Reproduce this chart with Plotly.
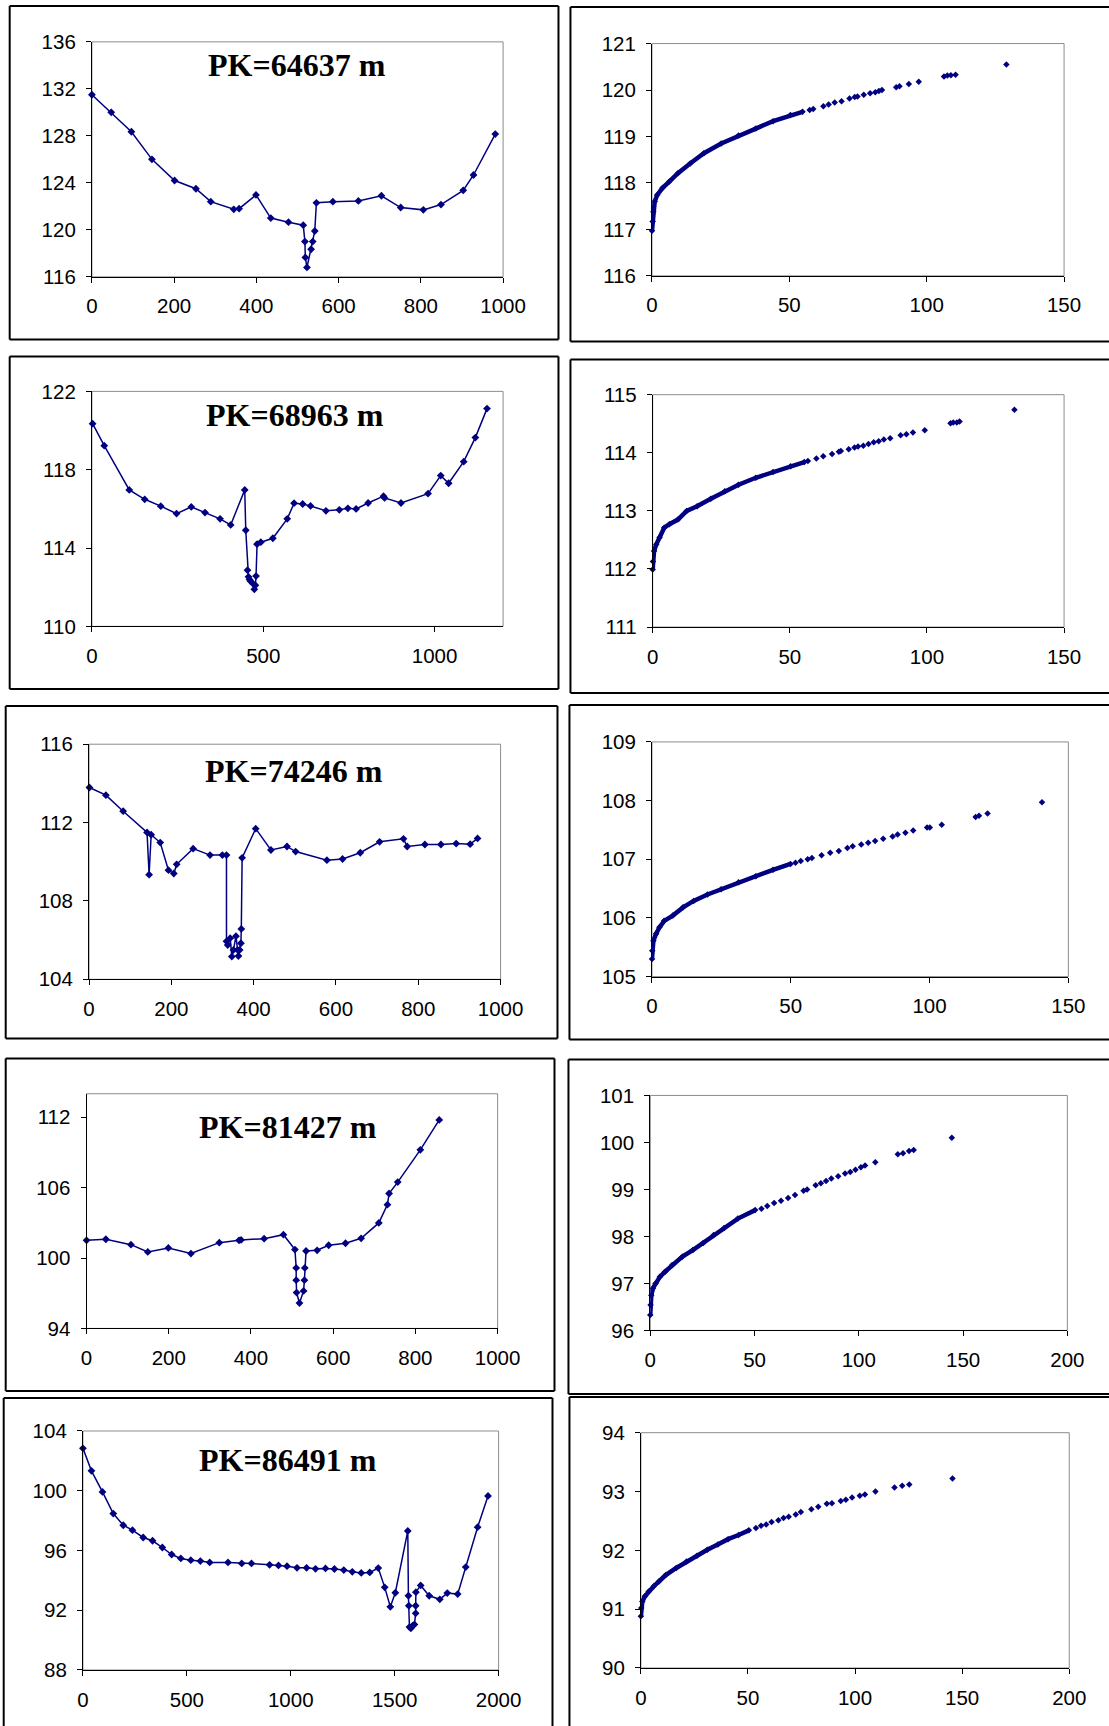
import plotly.graph_objects as go

W, H = 1109, 1726
NAVY = "#000080"

# Photographed page is slightly larger than the figure and scaled down to
# 1109 x 1726, so layout positions are expressed in final image pixels and
# converted back to figure pixels with this measured mapping.
IMG_SCALE_X, IMG_SHIFT_X = 0.976, 4.3
IMG_SCALE_Y, IMG_SHIFT_Y = 0.988, 10.1

# ---------------------------------------------------------------------------
# Cross sections: distance across the valley (m) and bed elevation (m)
# ---------------------------------------------------------------------------
dist_64637 = [0, 47, 96, 146, 201, 253, 289, 345, 358, 399, 435, 478, 514, 518,
              519, 523, 533, 537, 542, 546, 586, 648, 704, 751, 806, 849, 903,
              928, 981]
elev_64637 = [131.5, 130.0, 128.35, 126.0, 124.2, 123.5, 122.4, 121.75, 121.8,
              122.97, 121.0, 120.65, 120.4, 119.0, 117.65, 116.8, 118.35, 119.0,
              119.9, 122.3, 122.4, 122.46, 122.9, 121.9, 121.7, 122.15, 123.36,
              124.67, 128.15]

dist_68963 = [2, 36, 109, 154, 201, 247, 290, 330, 374, 405, 446, 449, 454, 457,
              460, 463, 469, 474, 477, 479, 482, 493, 528, 570, 590, 615, 638,
              683, 722, 747, 771, 806, 851, 854, 902, 981, 1018, 1041, 1085,
              1119, 1153]
elev_68963 = [120.35, 119.23, 116.97, 116.49, 116.14, 115.76, 116.1, 115.81,
              115.49, 115.18, 116.97, 114.91, 112.87, 112.53, 112.4, 112.31,
              112.2, 111.89, 112.1, 112.57, 114.2, 114.3, 114.5, 115.49, 116.29,
              116.25, 116.15, 115.9, 115.95, 116.03, 116.0, 116.3, 116.65,
              116.56, 116.3, 116.78, 117.7, 117.31, 118.41, 119.64, 121.12]

dist_74246 = [1, 41, 83, 141, 146, 151, 173, 193, 206, 213, 253, 294, 324, 334,
              334, 337, 343, 347, 351, 357, 361, 363, 366, 369, 370, 372, 405,
              442, 481, 502, 578, 616, 659, 706, 764, 773, 816, 855, 892, 926,
              944]
elev_74246 = [113.79, 113.4, 112.58, 111.5, 109.34, 111.38, 110.98, 109.57,
              109.4, 109.87, 110.67, 110.34, 110.34, 110.34, 105.94, 105.75,
              106.1, 105.16, 105.5, 106.2, 105.5, 105.19, 105.5, 105.84, 106.57,
              110.2, 111.69, 110.6, 110.78, 110.52, 110.08, 110.14, 110.46,
              111.02, 111.17, 110.78, 110.88, 110.88, 110.93, 110.9, 111.19]

dist_81427 = [0, 47, 108, 149, 199, 254, 323, 371, 376, 432, 479, 507, 510, 510,
              511, 518, 528, 530, 531, 534, 561, 589, 630, 668, 711, 732, 736,
              757, 812, 858]
elev_81427 = [101.51, 101.6, 101.14, 100.52, 100.86, 100.38, 101.31, 101.51,
              101.54, 101.65, 101.99, 100.72, 99.16, 98.11, 97.06, 96.16, 97.2,
              98.11, 99.16, 100.6, 100.66, 101.09, 101.26, 101.68, 102.99,
              104.55, 105.5, 106.47, 109.22, 111.77]

dist_86491 = [0, 41, 94, 146, 194, 238, 290, 335, 382, 427, 471, 519, 565, 610,
              698, 764, 811, 898, 941, 982, 1030, 1076, 1119, 1167, 1210, 1255,
              1296, 1339, 1380, 1421, 1452, 1479, 1503, 1563, 1566, 1568, 1571,
              1578, 1586, 1595, 1601, 1601, 1602, 1625, 1666, 1717, 1753, 1803,
              1842, 1899, 1949]
elev_86491 = [102.84, 101.33, 99.92, 98.47, 97.69, 97.36, 96.87, 96.65, 96.2,
              95.73, 95.47, 95.35, 95.29, 95.2, 95.2, 95.13, 95.13, 95.04, 95.0,
              94.95, 94.84, 94.84, 94.77, 94.8, 94.76, 94.69, 94.57, 94.5, 94.53,
              94.82, 93.53, 92.23, 93.17, 97.31, 92.97, 92.3, 90.87, 90.79,
              90.96, 91.05, 91.79, 92.3, 93.21, 93.66, 92.97, 92.73, 93.15,
              93.08, 94.89, 97.56, 99.65]

# ---------------------------------------------------------------------------
# Rating curves: discharge (m3/s) against water level (m).
# The low-flow part is densely sampled, the high-flow part is sparse.
# ---------------------------------------------------------------------------
q_64637_low = [0, 0.25, 0.5, 1, 1.9, 3.8, 6.3, 9.45, 13.9, 18.9, 25.2, 31.5,
               37.8, 44.1, 50.4, 54.8]
h_64637_low = [116.97, 117.17, 117.38, 117.6, 117.74, 117.89, 118.03, 118.21,
               118.42, 118.64, 118.85, 119.02, 119.17, 119.33, 119.46, 119.53]
q_64637_high = [57.4, 58.7, 62.4, 64.3, 66.5, 69, 71.9, 73.8, 74.8, 77.1, 79.4,
                81.3, 82.6, 83.7, 88.9, 90.1, 93.5, 97.1, 106.3, 107.5, 108.8,
                110.5, 129]
h_64637_high = [119.57, 119.59, 119.65, 119.69, 119.73, 119.76, 119.82, 119.85,
                119.86, 119.9, 119.93, 119.95, 119.98, 120.0, 120.06, 120.08,
                120.13, 120.18, 120.29, 120.31, 120.32, 120.33, 120.55]

q_68963_low = [0, 0.1, 0.5, 1.3, 2.5, 4.2, 6.1, 9.2, 12.4, 16.2, 21.2, 26.3,
               31.3, 37.6, 43.9, 50.3, 55.3]
h_68963_low = [111.99, 112.13, 112.31, 112.42, 112.54, 112.71, 112.77, 112.85,
               113.0, 113.08, 113.21, 113.34, 113.45, 113.57, 113.67, 113.77,
               113.84]
q_68963_high = [56.6, 59.7, 62.2, 65.4, 67.9, 68.6, 71.5, 73.6, 74.9, 76.8, 78.7,
                80.6, 82.4, 84.3, 86.6, 90.4, 92.5, 94.9, 99.2, 108.6, 109.6,
                110.9, 111.9, 131.9]
h_68963_high = [113.86, 113.9, 113.94, 113.98, 114.02, 114.03, 114.06, 114.09,
                114.11, 114.12, 114.15, 114.18, 114.2, 114.23, 114.25, 114.3,
                114.32, 114.35, 114.39, 114.51, 114.52, 114.52, 114.54, 114.74]

q_74246_low = [0, 0.1, 0.5, 1.5, 2.7, 4.4, 7.5, 11.2, 15, 20, 24.9, 31.2, 37.4,
               43.6, 49.9]
h_74246_low = [105.3, 105.44, 105.61, 105.73, 105.84, 105.95, 106.04, 106.18,
               106.29, 106.4, 106.49, 106.61, 106.71, 106.82, 106.92]
q_74246_high = [51.7, 53.6, 56.1, 57.6, 61.1, 64.2, 67.3, 70.4, 72.3, 75.4,
                77.9, 80.4, 83.3, 86.7, 88.5, 91.3, 94.1, 99.1, 100.1, 104.4,
                116.6, 117.8, 120.9, 140.5]
h_74246_high = [106.94, 106.97, 107.0, 107.02, 107.07, 107.11, 107.14, 107.19,
                107.22, 107.25, 107.28, 107.31, 107.35, 107.39, 107.42, 107.45,
                107.49, 107.54, 107.54, 107.59, 107.72, 107.74, 107.78, 107.97]

q_81427_low = [0, 0.15, 0.5, 1.3, 2.5, 4.6, 7.1, 10.5, 15.4, 20.4, 25.4, 30.4,
               35.4, 42, 50.3]
h_81427_low = [96.33, 96.54, 96.75, 96.9, 97.0, 97.14, 97.25, 97.39, 97.57,
               97.71, 97.86, 98.03, 98.18, 98.38, 98.56]
q_81427_high = [53.3, 56.1, 59.4, 62.7, 66.1, 69.4, 73.5, 75.2, 79.3, 81.8,
                84.3, 86.8, 90.1, 93.4, 95.9, 98.4, 101, 103, 107.9, 118.7,
                121.2, 124.1, 126.3, 144.6]
h_81427_high = [98.59, 98.65, 98.71, 98.76, 98.82, 98.88, 98.97, 99.0, 99.09,
                99.13, 99.18, 99.23, 99.28, 99.34, 99.37, 99.42, 99.47, 99.51,
                99.58, 99.75, 99.77, 99.82, 99.84, 100.1]

q_86491_low = [0, 0.16, 0.65, 1.9, 3.6, 6, 8.4, 11.6, 16.5, 21.3, 26.2, 31,
               35.9, 40.7, 45.6, 50.4]
h_86491_low = [90.88, 91.02, 91.13, 91.22, 91.3, 91.39, 91.47, 91.58, 91.7,
               91.81, 91.91, 92.01, 92.1, 92.19, 92.26, 92.34]
q_86491_high = [53.7, 56.1, 58.5, 61, 64.2, 66.6, 69, 72.3, 74.7, 79.6, 82.8,
                86.8, 89.2, 93.3, 95.7, 98.6, 102.2, 104.6, 109.5, 118.4, 122,
                125.3, 145.5]
h_86491_high = [92.38, 92.42, 92.44, 92.48, 92.51, 92.55, 92.57, 92.61, 92.65,
                92.7, 92.74, 92.79, 92.8, 92.84, 92.86, 92.9, 92.93, 92.95, 93.0,
                93.07, 93.1, 93.12, 93.22]

section_titles = ["PK=64637 m", "PK=68963 m", "PK=74246 m", "PK=81427 m",
                  "PK=86491 m"]

# ---------------------------------------------------------------------------
# Geometry in image pixels. Frames: (left, top, right, bottom); a side given
# as None runs off the image and is not drawn.
# ---------------------------------------------------------------------------
profile_panels = [
    dict(x=dist_64637, y=elev_64637, frame=(8, 4, 558, 338),
         box=(90.4, 40, 502.5, 275.3), xr=(0, 1000), xd=200, yr=(116, 136),
         y0=116, yd=4, title_at=(296, 63)),
    dict(x=dist_68963, y=elev_68963, frame=(8, 355, 558, 688),
         box=(90.4, 390, 502.5, 625.3), xr=(0, 1200), xd=500, yr=(110, 122),
         y0=110, yd=4, title_at=(294, 414)),
    dict(x=dist_74246, y=elev_74246, frame=(4, 705, 557, 1038),
         box=(87.5, 743.3, 500, 978.7), xr=(0, 1000), xd=200, yr=(104, 116),
         y0=104, yd=4, title_at=(292.6, 770)),
    dict(x=dist_81427, y=elev_81427, frame=(4, 1058, 554, 1391),
         box=(85, 1093.3, 497, 1328.3), xr=(0, 1000), xd=200, yr=(94, 114),
         y0=94, yd=6, title_at=(286.6, 1126.7)),
    dict(x=dist_86491, y=elev_86491, frame=(2, 1398, 552, None),
         box=(81.4, 1431, 498, 1670.3), xr=(0, 2000), xd=500, yr=(88, 104),
         y0=88, yd=4, title_at=(286.6, 1460)),
]

rating_panels = [
    dict(xl=q_64637_low, yl=h_64637_low, xh=q_64637_high, yh=h_64637_high,
         frame=(570, 5, None, 340), box=(651.7, 41.7, 1064.7, 274.3),
         xr=(0, 150), xd=50, yr=(116, 121)),
    dict(xl=q_68963_low, yl=h_68963_low, xh=q_68963_high, yh=h_68963_high,
         frame=(570, 358, None, 692), box=(652.4, 393.3, 1064.7, 626),
         xr=(0, 150), xd=50, yr=(111, 115)),
    dict(xl=q_74246_low, yl=h_74246_low, xh=q_74246_high, yh=h_74246_high,
         frame=(569, 704, None, 1039), box=(651.7, 741, 1069, 976),
         xr=(0, 150), xd=50, yr=(105, 109)),
    dict(xl=q_81427_low, yl=h_81427_low, xh=q_81427_high, yh=h_81427_high,
         frame=(568, 1059, None, 1394), box=(650, 1095, 1068, 1330.3),
         xr=(0, 200), xd=50, yr=(96, 101)),
    dict(xl=q_86491_low, yl=h_86491_low, xh=q_86491_high, yh=h_86491_high,
         frame=(569, 1397, None, None), box=(640.6, 1432.7, 1069.9, 1668.3),
         xr=(0, 200), xd=50, yr=(90, 94)),
]

IMG_RIGHT, IMG_BOTTOM = 1115, 1732   # just past the image edges


def px_x(v):
    """image pixel column -> paper fraction"""
    return (v - IMG_SHIFT_X) / IMG_SCALE_X / W


def px_y(v):
    """image pixel row -> paper fraction (measured from bottom)"""
    return 1 - (v - IMG_SHIFT_Y) / IMG_SCALE_Y / H


TICK_FONT = dict(family="Liberation Sans, Arial, sans-serif", size=20.5,
                 color="black")
TITLE_FONT = dict(family="Liberation Serif, Times New Roman, serif", size=32,
                  color="black", weight="bold")

fig = go.Figure()
layout = dict(width=W, height=H, autosize=False,
              margin=dict(l=0, r=0, t=0, b=0),
              paper_bgcolor="white", plot_bgcolor="white",
              showlegend=False)
shapes = []
annotations = []


def add_axes(idx, box, xr, xd, yr, y0, yd):
    sfx = "" if idx == 1 else str(idx)
    bx0, by0, bx1, by1 = box
    common = dict(showgrid=False, zeroline=False, showline=True,
                  linecolor="black", linewidth=1, ticks="outside", ticklen=5,
                  tickcolor="black", tickwidth=1, tickfont=TICK_FONT,
                  fixedrange=True, ticklabelstandoff=6)
    layout["xaxis" + sfx] = dict(domain=[px_x(bx0), px_x(bx1)], range=list(xr),
                                 tick0=0, dtick=xd, anchor="y" + sfx, **common)
    layout["yaxis" + sfx] = dict(domain=[px_y(by1), px_y(by0)], range=list(yr),
                                 tick0=y0, dtick=yd, anchor="x" + sfx, **common)
    # grey plot-area outline behind the black axes
    shapes.append(dict(type="rect", xref="x" + sfx + " domain",
                       yref="y" + sfx + " domain", x0=0, x1=1, y0=0, y1=1,
                       line=dict(color="#8c8c8c", width=1), layer="below"))
    return "x" + sfx, "y" + sfx


def frame_line(x0, y0, x1, y1):
    shapes.append(dict(type="line", xref="paper", yref="paper",
                       x0=px_x(x0), x1=px_x(x1), y0=px_y(y0), y1=px_y(y1),
                       line=dict(color="black", width=2)))


def add_frame(frame):
    left, top, right, bottom = frame
    r = IMG_RIGHT if right is None else right
    b = IMG_BOTTOM if bottom is None else bottom
    frame_line(left, top, r, top)
    frame_line(left, top, left, b)
    if right is not None:
        frame_line(right, top, right, b)
    if bottom is not None:
        frame_line(left, bottom, r, bottom)


idx = 0
for p, title in zip(profile_panels, section_titles):
    idx += 1
    xa, ya = add_axes(idx, p["box"], p["xr"], p["xd"], p["yr"], p["y0"], p["yd"])
    add_frame(p["frame"])
    fig.add_trace(go.Scatter(
        x=p["x"], y=p["y"], xaxis=xa, yaxis=ya, mode="lines+markers",
        line=dict(color=NAVY, width=1.5),
        marker=dict(symbol="diamond", size=6, color=NAVY),
        cliponaxis=False, hoverinfo="skip"))
    tx, ty = p["title_at"]
    annotations.append(dict(text=title, xref="paper", yref="paper",
                            x=px_x(tx), y=px_y(ty), xanchor="center",
                            yanchor="middle", showarrow=False,
                            font=TITLE_FONT))

for r in rating_panels:
    idx += 1
    xa, ya = add_axes(idx, r["box"], r["xr"], r["xd"], r["yr"], r["yr"][0], 1)
    add_frame(r["frame"])
    fig.add_trace(go.Scatter(
        x=r["xl"], y=r["yl"], xaxis=xa, yaxis=ya, mode="lines+markers",
        line=dict(color=NAVY, width=4.5),
        marker=dict(symbol="diamond", size=5, color=NAVY),
        cliponaxis=False, hoverinfo="skip"))
    fig.add_trace(go.Scatter(
        x=r["xh"], y=r["yh"], xaxis=xa, yaxis=ya, mode="markers",
        marker=dict(symbol="diamond", size=5, color=NAVY),
        cliponaxis=False, hoverinfo="skip"))

layout["shapes"] = shapes
layout["annotations"] = annotations
fig.update_layout(**layout)

fig.write_html("out.html", config={"displayModeBar": False})
